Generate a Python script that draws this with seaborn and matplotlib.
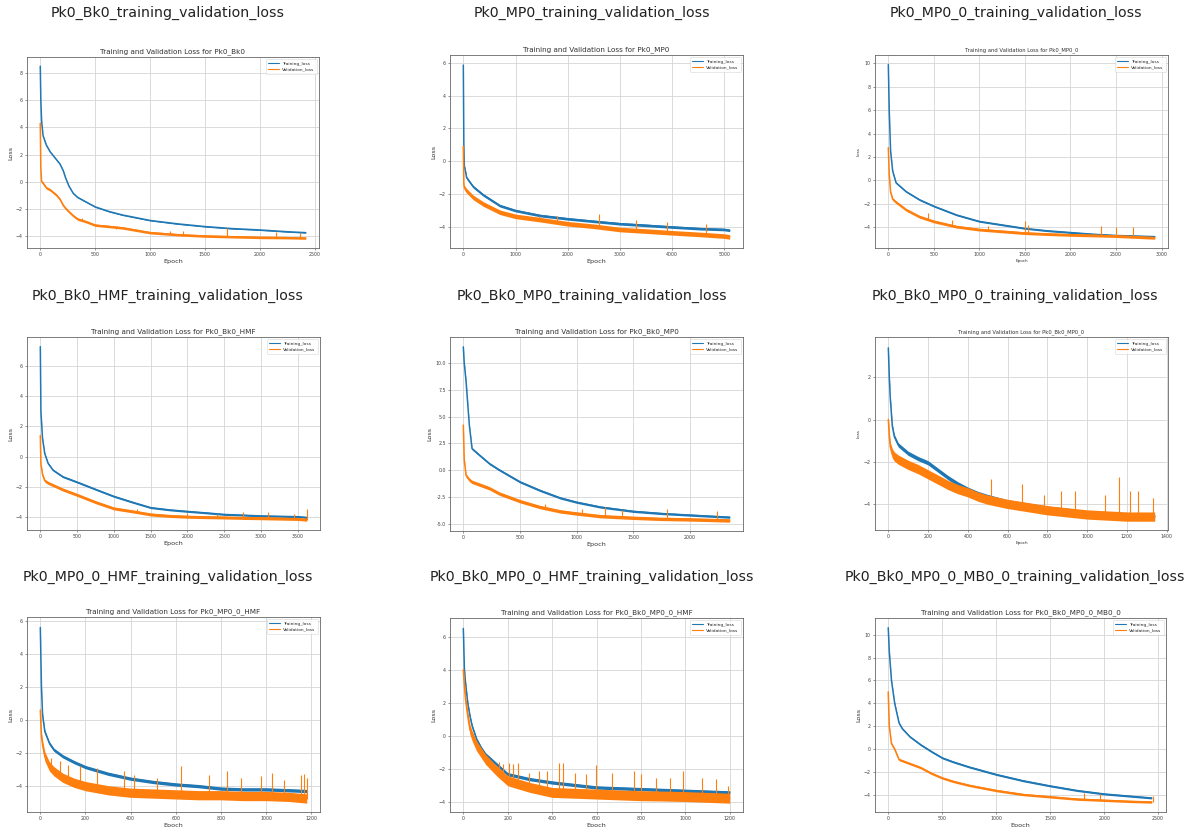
import numpy as np
import matplotlib
matplotlib.use("Agg")
import matplotlib.pyplot as plt
from matplotlib.ticker import MultipleLocator, FormatStrFormatter
import seaborn as sns

# ---------------- loss histories (epoch, training loss, validation loss) ----------------
# Pk0_Bk0
bk0_epoch = [0, 5, 12, 25, 55, 90, 150, 180, 210, 230, 260, 300, 340, 420, 500, 630, 750, 1000, 1250, 1500, 1750, 2000, 2250, 2420]
bk0_train = [8.5, 6.0, 4.5, 3.4, 2.7, 2.2, 1.6, 1.3, 0.8, 0.3, -0.3, -0.85, -1.15, -1.5, -1.85, -2.2, -2.45, -2.85, -3.1, -3.3, -3.45, -3.55, -3.68, -3.75]
bk0_val = [4.3, 1.0, 0.0, -0.1, -0.45, -0.6, -1.0, -1.3, -1.75, -1.95, -2.2, -2.5, -2.75, -2.95, -3.2, -3.3, -3.4, -3.75, -3.9, -4.0, -4.05, -4.1, -4.12, -4.15]
bk0_spread = [0.04, 0.09]
bk0_spike_x = [380, 690, 1010, 1180, 1300, 1700, 2150, 2370]
bk0_spike_y = [-2.7, -3.5, -3.7, -3.6, -3.6, -3.4, -3.7, -3.8]

# Pk0_MP0
mp0_epoch = [0, 10, 20, 40, 64, 190, 383, 700, 1000, 1470, 2000, 2490, 3000, 3520, 4000, 4540, 5000, 5100]
mp0_train = [5.85, 1.0, -0.3, -0.6, -1.0, -1.55, -2.05, -2.7, -3.0, -3.3, -3.5, -3.65, -3.8, -3.9, -4.0, -4.1, -4.15, -4.2]
mp0_val = [0.9, -1.4, -1.6, -1.7, -1.8, -2.2, -2.6, -3.1, -3.35, -3.55, -3.8, -3.95, -4.15, -4.25, -4.35, -4.45, -4.55, -4.6]
mp0_spread = [0.08, 0.14]
mp0_spike_x = [1450, 1800, 2600, 3300, 3900, 4650]
mp0_spike_y = [-3.3, -3.35, -3.2, -3.6, -3.7, -3.8]

# Pk0_MP0_0
mp00_epoch = [0, 10, 25, 48, 85, 195, 343, 500, 750, 1000, 1250, 1500, 1745, 2000, 2260, 2500, 2925]
mp00_train = [9.9, 6.0, 2.5, 0.8, -0.2, -0.95, -1.65, -2.2, -2.95, -3.5, -3.8, -4.1, -4.3, -4.45, -4.6, -4.7, -4.8]
mp00_val = [2.8, 0.5, -1.0, -1.6, -1.85, -2.5, -3.1, -3.5, -3.95, -4.2, -4.35, -4.5, -4.58, -4.65, -4.7, -4.75, -4.9]
mp00_spread = [0.07, 0.12]
mp00_spike_x = [435, 700, 1100, 1500, 1530, 2335, 2495, 2690]
mp00_spike_y = [-2.8, -3.4, -3.9, -3.5, -3.8, -3.85, -4.0, -4.0]

# Pk0_Bk0_HMF
hmf_epoch = [0, 8, 30, 60, 105, 172, 308, 500, 760, 1000, 1260, 1500, 1760, 2000, 2260, 2500, 2760, 3000, 3500, 3620]
hmf_train = [7.3, 3.0, 1.2, 0.2, -0.45, -0.9, -1.35, -1.7, -2.2, -2.65, -3.05, -3.4, -3.55, -3.65, -3.75, -3.85, -3.9, -3.95, -4.0, -4.05]
hmf_val = [1.4, -0.5, -1.2, -1.6, -1.75, -1.9, -2.2, -2.55, -3.05, -3.45, -3.65, -3.85, -3.95, -4.0, -4.03, -4.05, -4.08, -4.1, -4.15, -4.2]
hmf_spread = [0.06, 0.1]
hmf_spike_x = [1100, 1310, 2000, 2400, 2750, 3100, 3450, 3620]
hmf_spike_y = [-3.55, -3.5, -3.75, -3.8, -3.7, -3.7, -3.8, -3.5]

# Pk0_Bk0_MP0
bmp_epoch = [0, 8, 24, 53, 77, 142, 231, 320, 500, 677, 855, 1000, 1210, 1500, 1745, 2000, 2350]
bmp_train = [11.5, 10.0, 8.3, 4.2, 2.0, 1.4, 0.6, 0.0, -1.1, -1.9, -2.6, -3.0, -3.45, -3.85, -4.05, -4.2, -4.4]
bmp_val = [4.2, 1.0, -0.5, -0.9, -1.1, -1.35, -1.7, -2.2, -2.9, -3.45, -3.85, -4.05, -4.3, -4.45, -4.55, -4.6, -4.7]
bmp_spread = [0.1, 0.16]
bmp_spike_x = [720, 1050, 1250, 1400, 1800, 2240]
bmp_spike_y = [-3.2, -3.6, -3.4, -3.7, -3.6, -3.8]

# Pk0_Bk0_MP0_0
bmp0_epoch = [0, 5, 10, 20, 30, 50, 100, 150, 200, 250, 300, 350, 400, 450, 500, 600, 700, 800, 900, 1000, 1100, 1200, 1340]
bmp0_train = [3.4, 2.0, 1.0, -0.3, -0.8, -1.2, -1.6, -1.85, -2.05, -2.4, -2.75, -3.05, -3.3, -3.5, -3.65, -3.9, -4.05, -4.2, -4.3, -4.45, -4.5, -4.5, -4.6]
bmp0_val = [0.0, -0.8, -1.3, -1.6, -1.75, -1.9, -2.15, -2.35, -2.6, -2.85, -3.1, -3.3, -3.45, -3.65, -3.8, -4.0, -4.15, -4.3, -4.4, -4.5, -4.55, -4.6, -4.6]
bmp0_spread = [0.1, 0.22]
bmp0_spike_x = [515, 670, 785, 870, 940, 1090, 1162, 1218, 1255, 1330]
bmp0_spike_y = [-2.8, -3.05, -3.6, -3.4, -3.4, -3.6, -2.7, -3.4, -3.4, -3.7]

# Pk0_MP0_0_HMF
mhmf_epoch = [0, 5, 10, 20, 40, 60, 100, 150, 200, 300, 400, 500, 600, 700, 800, 900, 1000, 1100, 1180]
mhmf_train = [5.6, 2.0, 0.3, -0.7, -1.4, -1.8, -2.2, -2.55, -2.85, -3.25, -3.55, -3.75, -3.9, -4.0, -4.15, -4.2, -4.2, -4.25, -4.3]
mhmf_val = [0.6, -1.0, -1.5, -2.2, -2.8, -3.1, -3.5, -3.8, -4.0, -4.25, -4.4, -4.45, -4.5, -4.55, -4.55, -4.6, -4.6, -4.65, -4.75]
mhmf_spread = [0.1, 0.28]
mhmf_spike_x = [48, 87, 124, 176, 250, 370, 413, 517, 625, 747, 828, 887, 976, 1028, 1080, 1154, 1169, 1180]
mhmf_spike_y = [-2.3, -2.5, -2.7, -2.8, -2.9, -3.1, -3.3, -3.5, -2.8, -3.3, -3.1, -3.5, -3.4, -3.2, -3.6, -3.3, -3.25, -3.5]

# Pk0_Bk0_MP0_0_HMF
bhmf_epoch = [0, 5, 10, 20, 30, 40, 60, 80, 100, 150, 200, 300, 400, 500, 600, 700, 800, 900, 1000, 1100, 1200]
bhmf_train = [6.5, 4.0, 3.2, 2.0, 1.2, 0.6, -0.2, -0.7, -1.1, -1.7, -2.3, -2.6, -2.8, -2.95, -3.1, -3.15, -3.2, -3.25, -3.3, -3.35, -3.4]
bhmf_val = [4.0, 3.0, 2.2, 1.2, 0.4, 0.0, -0.6, -1.0, -1.4, -2.1, -2.7, -3.1, -3.4, -3.45, -3.5, -3.55, -3.6, -3.62, -3.65, -3.7, -3.75]
bhmf_spread = [0.1, 0.3]
bhmf_spike_x = [162, 180, 207, 225, 248, 298, 340, 376, 433, 448, 505, 553, 596, 668, 771, 800, 869, 929, 989, 1077, 1140, 1192]
bhmf_spike_y = [-1.55, -1.7, -1.65, -1.7, -1.6, -2.2, -2.1, -2.1, -1.65, -1.65, -2.2, -2.3, -1.75, -2.2, -2.1, -2.3, -2.5, -2.5, -2.1, -2.5, -2.6, -3.0]

# Pk0_Bk0_MP0_0_MB0_0
mb_epoch = [0, 10, 30, 60, 100, 130, 200, 300, 400, 500, 600, 750, 1000, 1250, 1500, 1750, 2000, 2250, 2440]
mb_train = [10.6, 8.5, 6.0, 4.0, 2.3, 1.8, 1.1, 0.4, -0.2, -0.75, -1.1, -1.55, -2.2, -2.75, -3.2, -3.6, -3.9, -4.1, -4.25]
mb_val = [5.0, 2.0, 0.5, 0.0, -0.9, -1.0, -1.25, -1.6, -2.1, -2.5, -2.8, -3.15, -3.6, -3.95, -4.15, -4.35, -4.45, -4.55, -4.6]
mb_spread = [0.08, 0.1]
mb_spike_x = [1150, 1500, 1810, 1960, 2450]
mb_spike_y = [-3.7, -4.0, -3.8, -3.9, -4.1]

run_names = ["Pk0_Bk0", "Pk0_MP0", "Pk0_MP0_0",
             "Pk0_Bk0_HMF", "Pk0_Bk0_MP0", "Pk0_Bk0_MP0_0",
             "Pk0_MP0_0_HMF", "Pk0_Bk0_MP0_0_HMF", "Pk0_Bk0_MP0_0_MB0_0"]

runs = [
    (bk0_epoch, bk0_train, bk0_val, bk0_spread, bk0_spike_x, bk0_spike_y),
    (mp0_epoch, mp0_train, mp0_val, mp0_spread, mp0_spike_x, mp0_spike_y),
    (mp00_epoch, mp00_train, mp00_val, mp00_spread, mp00_spike_x, mp00_spike_y),
    (hmf_epoch, hmf_train, hmf_val, hmf_spread, hmf_spike_x, hmf_spike_y),
    (bmp_epoch, bmp_train, bmp_val, bmp_spread, bmp_spike_x, bmp_spike_y),
    (bmp0_epoch, bmp0_train, bmp0_val, bmp0_spread, bmp0_spike_x, bmp0_spike_y),
    (mhmf_epoch, mhmf_train, mhmf_val, mhmf_spread, mhmf_spike_x, mhmf_spike_y),
    (bhmf_epoch, bhmf_train, bhmf_val, bhmf_spread, bhmf_spike_x, bhmf_spike_y),
    (mb_epoch, mb_train, mb_val, mb_spread, mb_spike_x, mb_spike_y),
]

x_steps = [500, 1000, 500, 500, 500, 200, 200, 200, 500]
y_steps = [2, 2, 2, 2, 2.5, 2, 2, 2, 2]

# ---------------- layout (pixel boxes: left, right, top, bottom) ----------------
W, H = 1193, 827
boxes = [(27, 319, 57, 248), (450, 743, 55, 248), (875, 1168, 55, 248),
         (27, 320, 337, 530), (450, 743, 337, 531), (875, 1168, 337, 530),
         (27, 320, 617, 812), (450, 743, 618, 812), (875, 1166, 618, 812)]
title_pos = [(168, 13), (592, 13), (1016, 13),
             (168, 296), (592, 296), (1015, 296),
             (168, 577), (592, 577), (1015, 577)]
compact = [False, False, True, False, False, True, False, False, False]

sns.set_theme(style="whitegrid")
plt.rcParams["font.family"] = ["DejaVu Sans"]

BLUE = "#1f77b4"
ORANGE = "#ff7f0e"

fig = plt.figure(figsize=(W / 100, H / 100), dpi=100)
fig.patch.set_facecolor("white")

for i, name in enumerate(run_names):
    epoch, train, val, spread, sx, sy = runs[i]
    epoch = np.asarray(epoch, float)
    train = np.asarray(train, float)
    val = np.asarray(val, float)
    l, r, t, b = boxes[i]
    ax = fig.add_axes([l / W, 1 - b / H, (r - l) / W, (b - t) / H])

    # noisy bands around each curve
    ax.fill_between(epoch, train - spread[0], train + spread[0], color=BLUE, lw=0, zorder=2)
    sns.lineplot(x=epoch, y=train, ax=ax, color=BLUE, lw=1.1, label="Training_loss", zorder=3)
    ax.fill_between(epoch, val - spread[1], val + spread[1], color=ORANGE, lw=0, zorder=4)
    sns.lineplot(x=epoch, y=val, ax=ax, color=ORANGE, lw=1.1, label="Validation_loss", zorder=5)
    ax.vlines(sx, np.interp(sx, epoch, val), sy, color=ORANGE, lw=0.8, zorder=5)

    small = compact[i]
    ax.set_title(f"Training and Validation Loss for {name}",
                 fontsize=3.8 if small else 5.2, pad=2.5, color="#333333")
    ax.set_xlabel("Epoch", fontsize=3.0 if small else 4.6, labelpad=1.5, color="#333333")
    ax.set_ylabel("Loss", fontsize=3.0 if small else 4.6, labelpad=2, color="#333333")
    ax.xaxis.set_major_locator(MultipleLocator(x_steps[i]))
    ax.yaxis.set_major_locator(MultipleLocator(y_steps[i]))
    if y_steps[i] == 2.5:
        ax.yaxis.set_major_formatter(FormatStrFormatter("%.1f"))
    ax.tick_params(labelsize=3.4, length=1.5, width=0.4, pad=1.5, colors="#444444",
                   bottom=True, left=True)
    ax.grid(True, color="#d4d4d4", lw=0.6)
    for s in ax.spines.values():
        s.set_linewidth(0.6)
        s.set_color("#666666")
    ax.set_facecolor("white")
    leg = ax.legend(loc="upper right", fontsize=3.2, frameon=True, handlelength=2.4,
                    borderpad=0.5, labelspacing=0.4, handletextpad=0.8)
    leg.get_frame().set_linewidth(0.4)
    leg.get_frame().set_edgecolor("#cccccc")
    for h in leg.get_lines():
        h.set_linewidth(0.8)

    tx, ty = title_pos[i]
    fig.text(tx / W, 1 - ty / H, f"{name}_training_validation_loss",
             ha="center", va="center", fontsize=10.2, color="#222222")

fig.savefig("out.png", dpi=100, facecolor="white")
